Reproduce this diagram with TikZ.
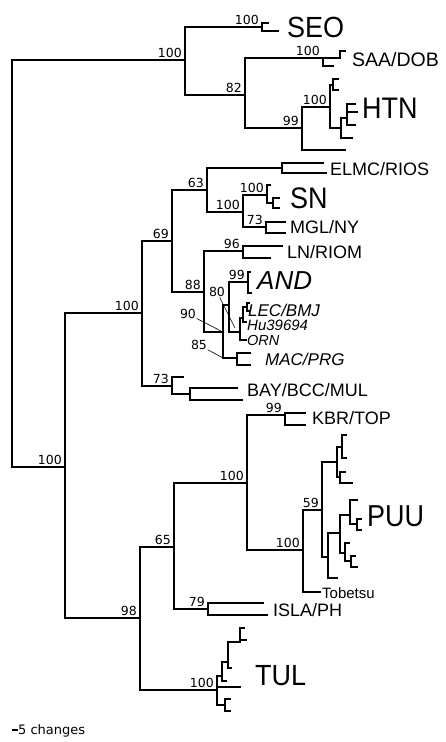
\documentclass[tikz,border=0pt]{standalone}
\usepackage{fontspec}
\setmainfont{Liberation Sans}
\newfontfamily\bsfont{DejaVu Sans}
\begin{document}
\begin{tikzpicture}[x=1pt,y=-1pt,
  br/.style={line width=1.4pt, line cap=rect, line join=miter},
  lead/.style={line width=0.6pt},
  bs/.style={font=\bsfont\fontsize{12.5}{13}\selectfont, anchor=south east, inner sep=0.5pt, xshift=-2.5pt, yshift=1.5pt},
  bsn/.style={font=\bsfont\fontsize{12.5}{13}\selectfont, inner sep=0.5pt},
  big/.style={font=\fontsize{27}{30}\selectfont, anchor=west, inner sep=0pt},
  mid/.style={font=\fontsize{18}{20}\selectfont, anchor=west, inner sep=0pt},
  ita/.style={font=\itshape\fontsize{16}{18}\selectfont, anchor=west, inner sep=0pt}]
\useasboundingbox (0,0) rectangle (446,742);
% ---- coordinates: top clade
\coordinate (R) at (12,263);
\coordinate (A1) at (185,60);
\coordinate (SEOn) at (262,27);
\coordinate (SEOa) at (268,23);
\coordinate (SEOb) at (278,31);
\coordinate (A82) at (245,95);
\coordinate (SAA) at (323,58);
\coordinate (SAAt) at (340,58);
\coordinate (SAAt1) at (345,51);
\coordinate (SAAb) at (333,66);
\coordinate (A99) at (302,128);
\coordinate (A99b) at (345,150);
\coordinate (H100) at (330,107);
\coordinate (H1) at (333,85);
\coordinate (H1a) at (338,79);
\coordinate (H1b) at (338,90);
\coordinate (H2) at (341,128);
\coordinate (H2b) at (352,138);
\coordinate (H3) at (347,118);
\coordinate (H3a) at (355,104);
\coordinate (H3b) at (357,112);
\coordinate (H3c) at (355,125);
% ---- middle clade
\coordinate (B) at (65,467);
\coordinate (M) at (142,313);
\coordinate (N69) at (172,241);
\coordinate (N63) at (207,190);
\coordinate (ELMC) at (282,168);
\coordinate (E1) at (323,163);
\coordinate (E2) at (326,173);
\coordinate (NSN) at (243,212);
\coordinate (SN) at (267,195);
\coordinate (SN1) at (270,185);
\coordinate (SN2) at (273,203);
\coordinate (SN2a) at (279,198);
\coordinate (SN2b) at (279,208);
\coordinate (MGL) at (266,227);
\coordinate (M1) at (285,222);
\coordinate (M2) at (285,233);
\coordinate (N88) at (204,292);
\coordinate (LN) at (243,251);
\coordinate (L1) at (282,246);
\coordinate (L2) at (270,258);
\coordinate (N90) at (223,332);
\coordinate (N80) at (229,305);
\coordinate (AND) at (248,282);
\coordinate (AND1) at (250,272);
\coordinate (AND2) at (251,293);
\coordinate (LEC) at (240,332);
\coordinate (LH) at (243,318);
\coordinate (LH1) at (247,307);
\coordinate (LH1a) at (249,303);
\coordinate (LH1b) at (249,311);
\coordinate (LH2) at (246,322);
\coordinate (ORN) at (246,340);
\coordinate (MAC) at (237,358);
\coordinate (MC1) at (250,353);
\coordinate (MC2) at (250,365);
\coordinate (N73) at (172,386);
\coordinate (B1) at (183,377);
\coordinate (B2) at (190,394);
\coordinate (B2a) at (237,388);
\coordinate (B2b) at (242,400);
% ---- bottom clade
\coordinate (S98) at (140,618);
\coordinate (N65) at (174,547);
\coordinate (K100) at (247,483);
\coordinate (KBR) at (285,415);
\coordinate (K1) at (305,413);
\coordinate (K2) at (305,425);
\coordinate (P100) at (303,550);
\coordinate (N59) at (322,510);
\coordinate (TOB) at (320,592);
\coordinate (P1) at (337,462);
\coordinate (P1a) at (342,447);
\coordinate (P1a1) at (346,435);
\coordinate (P1a2) at (346,458);
\coordinate (P1b) at (340,477);
\coordinate (P1b1) at (345,472);
\coordinate (P1b2) at (352,483);
\coordinate (P2) at (328,557);
\coordinate (PB) at (340,533);
\coordinate (PC) at (350,515);
\coordinate (PC1) at (357,500);
\coordinate (PC2) at (357,524);
\coordinate (PC2a) at (361,519);
\coordinate (PC2b) at (361,530);
\coordinate (PD) at (345,553);
\coordinate (PD1) at (349,543);
\coordinate (PD2) at (351,561);
\coordinate (PD2a) at (355,556);
\coordinate (PD2b) at (357,567);
\coordinate (P2c) at (337,578);
\coordinate (ISLA) at (208,609);
\coordinate (I1) at (263,603);
\coordinate (I2) at (267,615);
\coordinate (T0) at (217,690);
\coordinate (T1) at (222,676);
\coordinate (T1a) at (228,662);
\coordinate (T1aa) at (240,642);
\coordinate (T1aa1) at (244,628);
\coordinate (T1aa2) at (246,640);
\coordinate (T1ab) at (231,668);
\coordinate (T1c) at (226,681);
\coordinate (T2) at (240,687);
\coordinate (T3) at (225,705);
\coordinate (T3a) at (230,699);
\coordinate (T3b) at (230,711);
% ---- branches
\foreach \p/\c in {R/A1, R/B, A1/SEOn, SEOn/SEOa, SEOn/SEOb, A1/A82, A82/SAA, SAA/SAAt, SAAt/SAAt1, SAA/SAAb,
  A82/A99, A99/A99b, A99/H100, H100/H1, H1/H1a, H1/H1b, H100/H2, H2/H3, H2/H2b, H3/H3a, H3/H3b, H3/H3c,
  B/M, B/S98, M/N69, M/N73, N69/N63, N69/N88, N63/ELMC, ELMC/E1, ELMC/E2, N63/NSN, NSN/SN, SN/SN1, SN/SN2,
  SN2/SN2a, SN2/SN2b, NSN/MGL, MGL/M1, MGL/M2, N88/LN, LN/L1, LN/L2, N88/N90, N90/N80, N80/AND, AND/AND1,
  AND/AND2, N80/LEC, LEC/LH, LH/LH1, LH1/LH1a, LH1/LH1b, LH/LH2, LEC/ORN, N90/MAC, MAC/MC1, MAC/MC2,
  N73/B1, N73/B2, B2/B2a, B2/B2b,
  S98/N65, S98/T0, N65/K100, N65/ISLA, K100/KBR, KBR/K1, KBR/K2, K100/P100, P100/N59, P100/TOB,
  N59/P1, P1/P1a, P1a/P1a1, P1a/P1a2, P1/P1b, P1b/P1b1, P1b/P1b2, N59/P2, P2/PB, PB/PC, PC/PC1, PC/PC2,
  PC2/PC2a, PC2/PC2b, PB/PD, PD/PD1, PD/PD2, PD2/PD2a, PD2/PD2b, P2/P2c, ISLA/I1, ISLA/I2,
  T0/T1, T1/T1a, T1a/T1aa, T1aa/T1aa1, T1aa/T1aa2, T1a/T1ab, T1/T1c, T0/T2, T0/T3, T3/T3a, T3/T3b}
  \draw[br] (\p) |- (\c);
% ---- bootstrap values
\node[bs] (bA1) at (A1) {100};
\node[bs] (bSEO) at (SEOn) {100};
\node[bs] (b82) at (A82) {82};
\node[bs] (bSAA) at (SAA) {100};
\node[bs] (b99a) at (A99) {99};
\node[bs] (bH) at (H100) {100};
\node[bs] (bB) at (B) {100};
\node[bs] (bM) at (M) {100};
\node[bs] (b69) at (N69) {69};
\node[bs] (b63) at (N63) {63};
\node[bs] (bNSN) at (NSN) {100};
\node[bs] (bSN) at (SN) {100};
\node[bs] (b73a) at (MGL) {73};
\node[bs] (b88) at (N88) {88};
\node[bs] (b96) at (LN) {96};
\node[bs] (b99b) at (AND) {99};
\node[bs] (b73b) at (N73) {73};
\node[bs] (b98) at (S98) {98};
\node[bs] (b65) at (N65) {65};
\node[bs] (bK) at (K100) {100};
\node[bs] (b99c) at (KBR) {99};
\node[bs] (bP) at (P100) {100};
\node[bs] (b59) at (N59) {59};
\node[bs] (b79) at (ISLA) {79};
\node[bs] (bT) at (T0) {100};
\node[bsn] (b80) at (217,292) {80};
\node[bsn] (b90) at (188,314) {90};
\node[bsn] (b85) at (199,345) {85};
\coordinate (t80) at (235,328);
\coordinate (t90) at (221,331);
\coordinate (t85) at (223,358);
\draw[lead] (b80) -- (t80);
\draw[lead] (b90) -- (t90);
\draw[lead] (b85) -- (t85);
% ---- taxon labels
\node[big] (lSEO) at (287,27) {\scalebox{1}[1.08]{SEO}};
\node[mid, font=\fontsize{19.5}{21}\selectfont] (lSAA) at (352,60) {SAA/DOB};
\node[big] (lHTN) at (362,108) {\scalebox{1}[1.1]{HTN}};
\node[mid] (lELMC) at (330,169) {ELMC/RIOS};
\node[big] (lSN) at (290,198) {\scalebox{1}[1.1]{SN}};
\node[mid] (lMGL) at (290,227) {MGL/NY};
\node[mid] (lLN) at (287,252) {LN/RIOM};
\node[big, font=\itshape\fontsize{26}{28}\selectfont] (lAND) at (257,281) {AND};
\node[ita, font=\itshape\fontsize{17}{18}\selectfont] (lLEC) at (248,310) {LEC/BMJ};
\node[ita, font=\itshape\fontsize{15}{17}\selectfont] (lHu) at (247,325) {Hu39694};
\node[ita, font=\itshape\fontsize{14.5}{16}\selectfont] (lORN) at (247,341) {ORN};
\node[ita, font=\itshape\fontsize{17}{18}\selectfont] (lMAC) at (265,359) {MAC/PRG};
\node[mid] (lBAY) at (247,390) {BAY/BCC/MUL};
\node[mid] (lKBR) at (312,418) {KBR/TOP};
\node[big] (lPUU) at (367,516) {\scalebox{1}[1.12]{PUU}};
\node[mid, font=\fontsize{15}{17}\selectfont] (lTob) at (322,593) {Tobetsu};
\node[mid] (lISLA) at (273,610) {ISLA/PH};
\node[big] (lTUL) at (255,676) {\scalebox{1}[1.08]{TUL}};
% ---- scale bar
\coordinate (sb1) at (12,730);
\coordinate (sb2) at (18,730);
\draw[line width=1.2pt] (sb1) -- (sb2);
\node[anchor=west, inner sep=0pt, font=\bsfont\fontsize{13}{14}\selectfont] (lsb) at (18,731) {5 changes};
\end{tikzpicture}
\end{document}
